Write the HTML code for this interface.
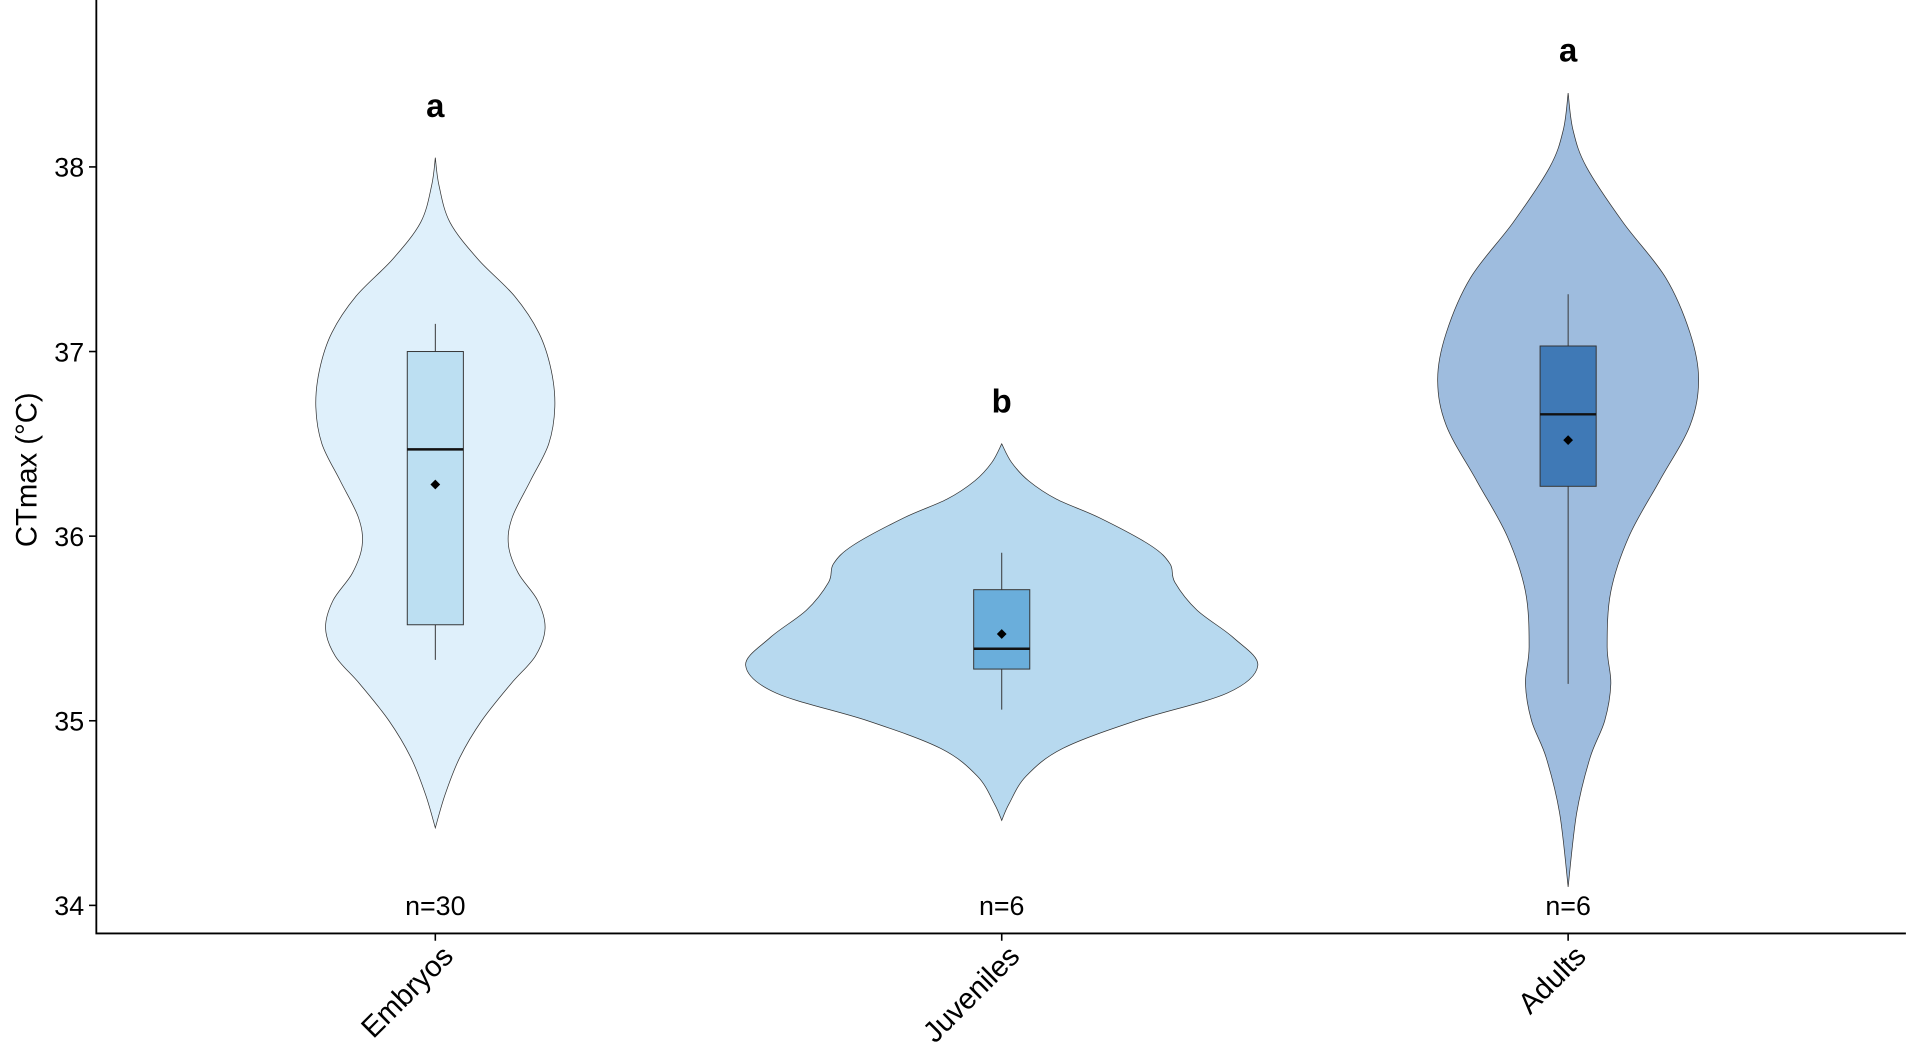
<!DOCTYPE html>
<html><head><meta charset="utf-8"><style>html,body{margin:0;padding:0;background:#fff}svg{display:block}text{font-family:"Liberation Sans",sans-serif}</style></head>
<body>
<svg id="chart" width="1912" height="1064" viewBox="0 0 1568 872" preserveAspectRatio="none" xmlns="http://www.w3.org/2000/svg"></svg>
<script>
const categories=["Embryos","Juveniles","Adults"];
const letters=["a","b","a"];
const counts=["n=30","n=6","n=6"];
const yTicks=[34,35,36,37,38];
const violinY=[
[38.05,37.9,37.7,37.5,37.3,37.1,36.9,36.7,36.5,36.3,36.1,35.95,35.8,35.65,35.5,35.35,35.2,35.0,34.8,34.6,34.42],
[36.5,36.4,36.3,36.2,36.1,35.95,35.85,35.75,35.6,35.45,35.3,35.15,35.0,34.85,34.7,34.55,34.46],
[38.4,38.2,38.0,37.7,37.4,37.1,36.85,36.6,36.3,36.0,35.7,35.4,35.2,35.0,34.8,34.5,34.1]];
const violinW=[
[0,3,12,35,65,85,95,98,93,78,63,60,68,84,90,82,62,38,20,8,0],
[0,8,22,45,80,122,138,142,160,190,210,185,110,50,20,6,0],
[0,4,15,45,80,100,107,100,75,50,35,32,35,30,18,7,0]];
const q1=[35.52,35.28,36.27], q3=[37.0,35.71,37.03], med=[36.47,35.39,36.66];
const wLo=[35.33,35.06,35.2], wHi=[37.15,35.91,37.31], means=[36.28,35.47,36.52];
const letterY=[38.33,36.73,38.63];
const violinFill=["#dff0fb","#b7d9ef","#9ebcde"], boxFill=["#bcdff2","#6aaedb","#3f79b6"];

const svg=document.getElementById('chart');
const NS="http://www.w3.org/2000/svg";
const X0=79,X1=1563,YB=765;
const yS=v=>742-(v-34)*151.3;
const xS=i=>357+i*464.5;
function mk(tag,attrs,parent){const e=document.createElementNS(NS,tag);for(const k in attrs)e.setAttribute(k,attrs[k]);(parent||svg).appendChild(e);return e;}
function smooth(pts){let d="M"+pts[0][0]+","+pts[0][1];for(let i=0;i<pts.length-1;i++){const p0=pts[Math.max(0,i-1)],p1=pts[i],p2=pts[i+1],p3=pts[Math.min(pts.length-1,i+2)];
d+=" C"+(p1[0]+(p2[0]-p0[0])/6)+","+(p1[1]+(p2[1]-p0[1])/6)+" "+(p2[0]-(p3[0]-p1[0])/6)+","+(p2[1]-(p3[1]-p1[1])/6)+" "+p2[0]+","+p2[1];}return d;}

categories.forEach((c,i)=>{
  const cx=xS(i);
  const right=violinY[i].map((v,j)=>[cx+violinW[i][j],yS(v)]);
  const left=violinY[i].map((v,j)=>[cx-violinW[i][j],yS(v)]).reverse();
  const d=smooth(right)+" "+smooth(left).replace("M","L")+"Z";
  const vp=mk('path',{d:d,fill:violinFill[i],stroke:"#333","stroke-width":0.6});
  
  
  const wl=mk('line',{x1:cx,x2:cx,y1:yS(wLo[i]),y2:yS(wHi[i]),stroke:"#333","stroke-width":0.8});
  
  
  const bx=mk('rect',{x:cx-23,width:46,y:yS(q3[i]),height:yS(q1[i])-yS(q3[i]),fill:boxFill[i],stroke:"#333","stroke-width":0.8});
  
  
  const md=mk('line',{x1:cx-23,x2:cx+23,y1:yS(med[i]),y2:yS(med[i]),stroke:"#111","stroke-width":2});
  
  
  const my=yS(means[i]);
  const mp=mk('path',{d:`M${cx},${my-4}L${cx+4},${my}L${cx},${my+4}L${cx-4},${my}Z`,fill:"#000"});
  
  
  const lt=mk('text',{x:cx,y:yS(letterY[i])+9,"text-anchor":"middle","font-size":27,"font-weight":"bold"});lt.textContent=letters[i];
  
  
  const nt=mk('text',{x:cx,y:750,"text-anchor":"middle","font-size":22});nt.textContent=counts[i];
  
  
  const tk=mk('line',{x1:cx,x2:cx,y1:YB,y2:YB+6,stroke:"#000","stroke-width":1.3});
  
  
  const xl=mk('text',{x:cx+16,y:YB+20,"text-anchor":"end","font-size":24,transform:`rotate(-45 ${cx+16} ${YB+20})`});xl.textContent=c;
  
  
});
yTicks.forEach(t=>{
  const y=yS(t);
  const tl=mk('line',{x1:X0-6,x2:X0,y1:y,y2:y,stroke:"#000","stroke-width":1.3});
  
  
  const tx=mk('text',{x:X0-10,y:y+8,"text-anchor":"end","font-size":22});tx.textContent=t;
  
  
});
const ax=mk('path',{d:`M${X0},0L${X0},${YB}L${X1},${YB}`,fill:"none",stroke:"#000","stroke-width":1.5});


const yt=mk('text',{x:30,y:385,"text-anchor":"middle","font-size":24,transform:"rotate(-90 30 385)"});yt.textContent="CTmax (°C)";


</script>
</body></html>
